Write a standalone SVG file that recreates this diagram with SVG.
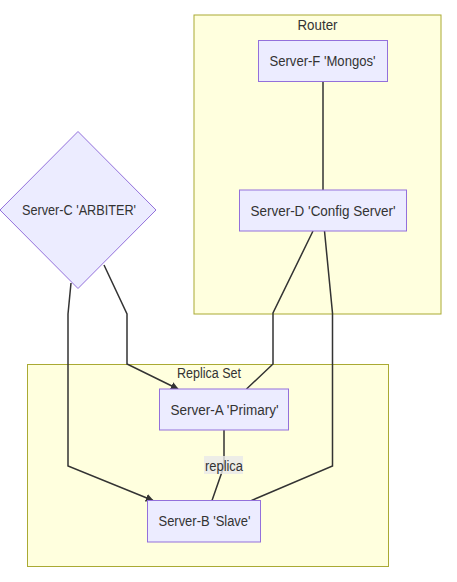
<svg xmlns="http://www.w3.org/2000/svg" width="457" height="582" viewBox="0 0 457 582">
<defs>
<style>
.cluster{fill:#ffffde;stroke:#aaaa33;stroke-width:1}
.node{fill:#ececff;stroke:#9370db;stroke-width:1}
.edge{fill:none;stroke:#333333;stroke-width:1.5}
text{font-family:"Liberation Sans",Arial,sans-serif;font-size:14px;fill:#333333;text-anchor:middle;dominant-baseline:central}
</style>
<marker id="arrow" viewBox="0 0 10 10" refX="9" refY="5" markerWidth="8" markerHeight="8" orient="auto" markerUnits="userSpaceOnUse">
<path d="M0,0 L10,5 L0,10 z" fill="#333333"/>
</marker>
</defs>
<rect width="457" height="582" fill="#ffffff"/>
<g id="cluster-router">
<rect class="cluster" x="194" y="15" width="247" height="299"/>
<text x="317.5" y="25" textLength="40" lengthAdjust="spacingAndGlyphs">Router</text>
</g>
<g id="cluster-replica">
<rect class="cluster" x="27.5" y="364.5" width="361" height="202"/>
<text x="209" y="373" textLength="64" lengthAdjust="spacingAndGlyphs">Replica Set</text>
</g>
<g id="edges">
<path class="edge" d="M323,82 L323,190"/>
<path class="edge" d="M104,265 L127,314 L127,364 L178,389" marker-end="url(#arrow)"/>
<path class="edge" d="M71,283 L68,314 L68,466 L153,500.5" marker-end="url(#arrow)"/>
<path class="edge" d="M313,231 L273,313 L273,364 L246.5,389"/>
<path class="edge" d="M324.5,231 L332.5,313 L332.5,466 L251.5,500.5"/>
<path class="edge" d="M224,430 L224,466 L212,500.5"/>
</g>
<g id="edge-label-replica">
<rect x="204" y="456" width="39" height="18" fill="#e8e8e8" opacity="0.8"/>
<text x="224" y="465.5" textLength="38" lengthAdjust="spacingAndGlyphs">replica</text>
</g>
<g id="node-F">
<rect class="node" x="258.5" y="40.5" width="129" height="41"/>
<text x="322.5" y="61" textLength="106" lengthAdjust="spacingAndGlyphs">Server-F 'Mongos'</text>
</g>
<g id="node-D">
<rect class="node" x="239.5" y="190" width="167" height="41"/>
<text x="323" y="210.5" textLength="145" lengthAdjust="spacingAndGlyphs">Server-D 'Config Server'</text>
</g>
<g id="node-C">
<polygon class="node" points="78,131.5 156,210 78,288.5 0,210"/>
<text x="79" y="210" textLength="114" lengthAdjust="spacingAndGlyphs">Server-C 'ARBITER'</text>
</g>
<g id="node-A">
<rect class="node" x="159.5" y="389" width="129" height="41"/>
<text x="224.5" y="409.5" textLength="108" lengthAdjust="spacingAndGlyphs">Server-A 'Primary'</text>
</g>
<g id="node-B">
<rect class="node" x="147.5" y="500.5" width="113" height="41.5"/>
<text x="204.5" y="521" textLength="92" lengthAdjust="spacingAndGlyphs">Server-B 'Slave'</text>
</g>
</svg>
